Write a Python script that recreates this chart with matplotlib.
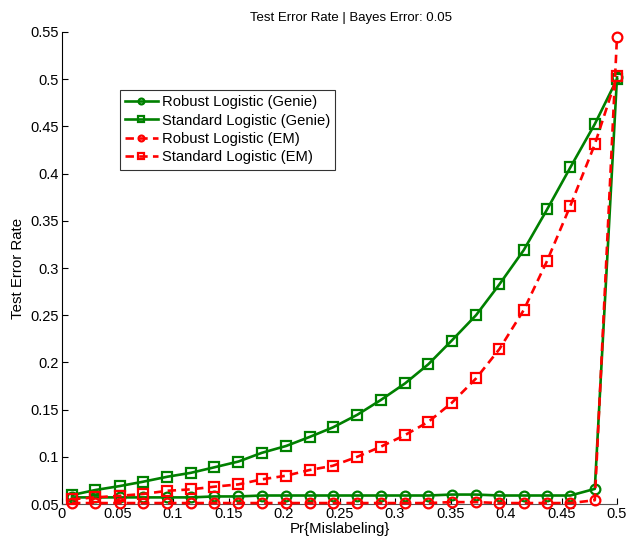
import matplotlib
matplotlib.use("Agg")
import matplotlib.pyplot as plt

plt.rcParams["font.family"] = ["Liberation Sans", "DejaVu Sans"]

# x = Pr{Mislabeling}
pr_mislabel = [0.009, 0.030, 0.052, 0.073, 0.095, 0.116, 0.137, 0.159,
               0.180, 0.202, 0.223, 0.244, 0.266, 0.287, 0.309, 0.330,
               0.351, 0.373, 0.394, 0.416, 0.437, 0.458, 0.480, 0.500]

robust_genie = [0.057, 0.057, 0.057, 0.057, 0.057, 0.057, 0.058, 0.058,
                0.059, 0.059, 0.059, 0.059, 0.059, 0.059, 0.059, 0.059,
                0.060, 0.060, 0.059, 0.059, 0.059, 0.059, 0.066, 0.502]

standard_genie = [0.0595, 0.0648, 0.069, 0.0736, 0.0789, 0.083, 0.0888, 0.095,
                  0.1042, 0.1115, 0.121, 0.1311, 0.1445, 0.160, 0.1777, 0.198,
                  0.223, 0.250, 0.2826, 0.319, 0.362, 0.4066, 0.4525, 0.500]

robust_em = [0.051, 0.051, 0.051, 0.051, 0.051, 0.051, 0.051, 0.051,
             0.051, 0.051, 0.051, 0.051, 0.051, 0.051, 0.051, 0.051,
             0.052, 0.052, 0.051, 0.051, 0.051, 0.051, 0.054, 0.545]

standard_em = [0.055, 0.057, 0.0587, 0.0606, 0.064, 0.0655, 0.0683, 0.0708,
               0.0761, 0.080, 0.086, 0.0905, 0.100, 0.1106, 0.123, 0.137,
               0.157, 0.183, 0.214, 0.2555, 0.3075, 0.366, 0.431, 0.503]

labels = ["Robust Logistic (Genie)", "Standard Logistic (Genie)",
          "Robust Logistic (EM)", "Standard Logistic (EM)"]

GREEN = "#008000"
RED = "#ff0000"

fig = plt.figure(figsize=(6.41, 5.37), dpi=100)
ax = fig.add_axes([62/641, 1 - 504/537, 555/641, 472/537])

series = [
    (robust_genie, GREEN, "-", "o"),
    (standard_genie, GREEN, "-", "s"),
    (robust_em, RED, "--", "o"),
    (standard_em, RED, "--", "s"),
]
for (vals, col, ls, mk), lbl in zip(series, labels):
    ax.plot(pr_mislabel, vals, color=col, ls=ls, lw=1.9, marker=mk,
            ms=7 if mk == "o" else 6.5, mfc="none", mec=col, mew=1.6,
            label=lbl, clip_on=False, zorder=3,
            dashes=(3.2, 2) if ls == "--" else (None, None))

ax.set_xlim(0, 0.5)
ax.set_ylim(0.05, 0.55)
xt = [0, 0.05, 0.1, 0.15, 0.2, 0.25, 0.3, 0.35, 0.4, 0.45, 0.5]
yt = [0.05, 0.1, 0.15, 0.2, 0.25, 0.3, 0.35, 0.4, 0.45, 0.5, 0.55]
ax.set_xticks(xt)
ax.set_xticklabels(["%g" % v for v in xt])
ax.set_yticks(yt)
ax.set_yticklabels(["%g" % v for v in yt])
ax.tick_params(direction="in", length=4, width=0.8, labelsize=10.5, pad=2)

for s in ["top", "right"]:
    ax.spines[s].set_visible(False)
ax.spines["left"].set_linewidth(0.8)
ax.spines["bottom"].set_linewidth(0.8)
ax.spines["bottom"].set_color("#555555")

ax.set_title("Test Error Rate | Bayes Error: 0.05", fontsize=9.5, pad=8, x=0.52)
ax.set_xlabel("Pr{Mislabeling}", fontsize=10.8, labelpad=1)
ax.set_ylabel("Test Error Rate", fontsize=10.8, labelpad=4)

leg = ax.legend(loc="upper left", bbox_to_anchor=(0.1045, 0.877),
                fontsize=10.6, frameon=True, fancybox=False, edgecolor="black",
                handlelength=2.2, handletextpad=0.3, borderpad=0.35,
                labelspacing=0.3, markerscale=0.6, borderaxespad=0)
leg.get_frame().set_linewidth(0.8)

fig.savefig("out.png", dpi=100, facecolor="white")
